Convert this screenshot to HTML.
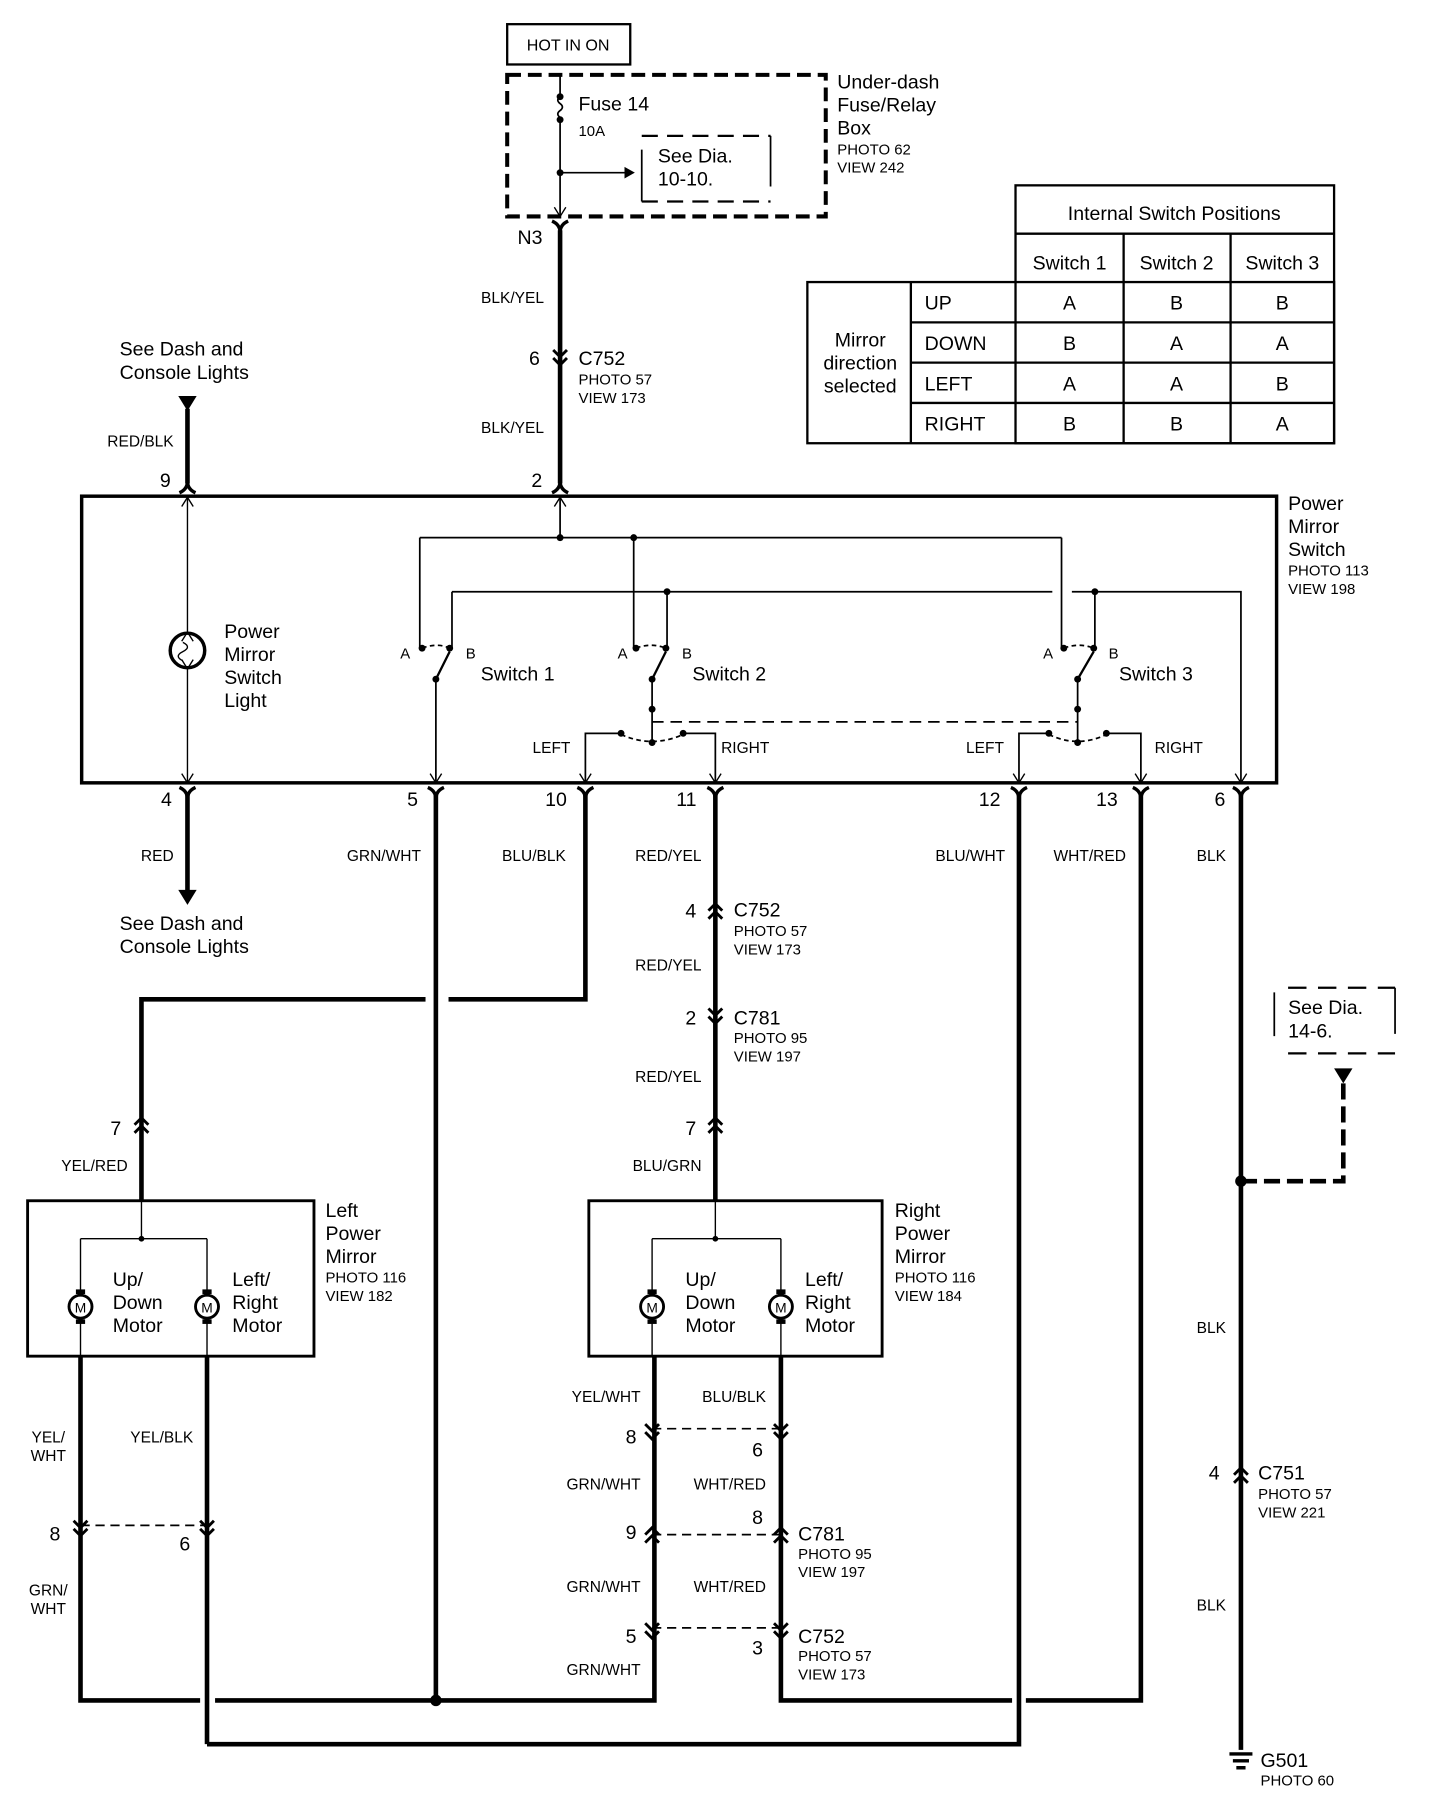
<!DOCTYPE html>
<html><head><meta charset="utf-8"><style>
html,body{margin:0;padding:0;background:#fff}
svg{display:block}
text{font-family:"Liberation Sans",Arial,sans-serif;fill:#000}
.t{font-size:17px}.s{font-size:13px}.w{font-size:13.5px}
</style></head><body>
<svg width="1456" height="1804" viewBox="0 0 1266 1567" preserveAspectRatio="none" xmlns="http://www.w3.org/2000/svg">
<defs>
<path id="yd" d="M-7,-6 Q0,-3 0,4 Q0,-3 7,-6" fill="none" stroke="#000" stroke-width="3"/>
<path id="yu" d="M-7,6 Q0,3 0,-4 Q0,3 7,6" fill="none" stroke="#000" stroke-width="3"/>
<g id="cd"><path d="M-6,-8 L0,-2 L6,-8 M-6,-1 L0,5 L6,-1" fill="none" stroke="#000" stroke-width="2.5"/></g>
<g id="cu"><path d="M-6,8 L0,2 L6,8 M-6,1 L0,-5 L6,1" fill="none" stroke="#000" stroke-width="2.5"/></g>
<g id="mot"><circle r="10" fill="#fff" stroke="#000" stroke-width="2.5"/><rect x="-4" y="-15" width="8" height="4" fill="#000"/><rect x="-4" y="11" width="8" height="4" fill="#000"/><text x="0" y="5" text-anchor="middle" style="font-size:12px">M</text></g>
</defs>
<g fill="none" stroke="#000">
<rect x="441" y="21" width="107" height="35" stroke-width="2"/>
<rect x="441" y="65" width="277" height="123" stroke-width="3.5" stroke-dasharray="12,6"/>
<path d="M487,65 V84 M487,104 V188" stroke-width="1.5"/>
<path d="M487,84 q-4,3 0,6 q4,3 0,6 q-4,3 0,6 V104" stroke-width="1.5"/>
<path d="M487,150 H543" stroke-width="1.5"/>
<path d="M558,118 H670 M558,175 H670" stroke-width="2" stroke-dasharray="14,8"/>
<path d="M558,130 V175 M670,118 V162" stroke-width="1.5"/>
<path d="M487,200 V420" stroke-width="4"/>
<rect x="883" y="161" width="277" height="224" stroke-width="2"/>
<rect x="702" y="245" width="458" height="140" stroke-width="2"/>
<path d="M883,203 H1160 M792,280 H1160 M792,315 H1160 M792,350 H1160 M792,245 V385 M977,203 V385 M1070,203 V385" stroke-width="2"/>
<rect x="71" y="431" width="1039" height="249" stroke-width="3"/>
<path d="M163,355 V420 M163,690 V775" stroke-width="4"/>
<path d="M163,431 V549 M163,581 V680" stroke-width="1.2"/>
<circle cx="163" cy="565" r="15" stroke-width="3"/>
<path d="M159,558 q8,4 0,8 q-8,4 0,8" stroke-width="1.2"/>
<path d="M487,431 V467 M365,467 H923 M365,467 V563 M551,467 V563 M923,467 V563" stroke-width="1.5"/>
<path d="M393,514 H915 M932,514 H1079 V680 M393,514 V563 M580,514 V563 M952,514 V563" stroke-width="1.5"/>
<path d="M379,590 V680 M567,590 V645 M937,590 V645 M509,680 V637 H538 M622,680 V637 H596 M886,680 V637 H912 M992,680 V637 H964" stroke-width="1.5"/>
<path d="M391,566 L379,590 M579,566 L567,590 M951,566 L937,590" stroke-width="2"/>
<path d="M367,563 Q380,558 391,563 M553,563 Q566,558 579,563 M925,563 Q938,558 951,563" stroke-width="1.5" stroke-dasharray="4,3"/>
<path d="M540,638 Q567,650 594,638 M912,638 Q937,650 962,638" stroke-width="1.5" stroke-dasharray="4,3"/>
<path d="M567,627 H937" stroke-width="1.5" stroke-dasharray="10,6"/>
<path d="M158,440 L163,432 L168,440 M158,672 L163,680 L168,672 M374,672 L379,680 L384,672 M504,672 L509,680 L514,672 M617,672 L622,680 L627,672 M881,672 L886,680 L891,672 M987,672 L992,680 L997,672 M1074,672 L1079,680 L1084,672 M482,440 L487,432 L492,440 M482,180 L487,188 L492,180 M158,557 L163,549 L168,557 M158,573 L163,581 L168,573" stroke-width="1.2"/>
<path d="M379,690 V1477 M509,690 V868 H390 M370,868 H123 V975 M123,975 V1043 M622,690 V1043 M886,690 V1515 H180 M992,690 V1477 H892 M880,1477 H679 V1178 M1079,690 V1520 M70,1178 V1477 H174 M187,1477 H569 V1178 M180,1178 V1515" stroke-width="4"/>
<path d="M1079,1026 H1168 V940" stroke-width="4" stroke-dasharray="14,6"/>
<path d="M1120,858 H1213 M1120,915 H1213" stroke-width="2" stroke-dasharray="16,10"/>
<path d="M1108,862 V900 M1213,858 V898" stroke-width="1.5"/>
<rect x="24" y="1043" width="249" height="135" stroke-width="2.5"/>
<rect x="512" y="1043" width="255" height="135" stroke-width="2.5"/>
<path d="M123,1043 V1076 M70,1076 H180 M70,1076 V1178 M180,1076 V1178 M622,1043 V1076 M567,1076 H679 M567,1076 V1178 M679,1076 V1178" stroke-width="1.2"/>
<path d="M70,1325 H180 M567,1241 H679 M567,1333 H679 M567,1414 H679" stroke-width="1.5" stroke-dasharray="8,5"/>
</g>
<g fill="#000">
<circle cx="487" cy="84" r="3"/><circle cx="487" cy="104" r="3"/><circle cx="487" cy="150" r="3"/>
<circle cx="487" cy="467" r="3"/><circle cx="551" cy="467" r="3"/><circle cx="580" cy="514" r="3"/><circle cx="952" cy="514" r="3"/>
<circle cx="367" cy="563" r="3"/><circle cx="391" cy="563" r="3"/><circle cx="379" cy="590" r="3"/>
<circle cx="553" cy="563" r="3"/><circle cx="579" cy="563" r="3"/><circle cx="567" cy="590" r="3"/><circle cx="567" cy="616" r="3"/><circle cx="567" cy="645" r="3"/><circle cx="540" cy="637" r="3"/><circle cx="594" cy="637" r="3"/>
<circle cx="925" cy="563" r="3"/><circle cx="951" cy="563" r="3"/><circle cx="937" cy="590" r="3"/><circle cx="937" cy="616" r="3"/><circle cx="937" cy="645" r="3"/><circle cx="912" cy="637" r="3"/><circle cx="962" cy="637" r="3"/>
<circle cx="379" cy="1477" r="5"/><circle cx="1079" cy="1026" r="5"/><circle cx="123" cy="1076" r="2.5"/><circle cx="622" cy="1076" r="2.5"/>
<path d="M543,145 L552,150 L543,155 Z"/>
<path d="M155,344 H171 L163,357 Z"/>
<path d="M155,773 H171 L163,786 Z"/>
<path d="M1160,928 H1176 L1168,941 Z"/>
<path d="M1069,1522 H1089 V1525 H1069 Z M1072,1528 H1086 V1531 H1072 Z M1075,1534 H1083 V1537 H1075 Z"/>
</g>
<g fill="#fff">
<use href="#yd" x="487" y="198"/>
<use href="#cd" x="487" y="312"/>
<use href="#yu" x="487" y="422"/><use href="#yu" x="163" y="422"/>
<use href="#yd" x="163" y="690"/><use href="#yd" x="379" y="690"/><use href="#yd" x="509" y="690"/><use href="#yd" x="622" y="690"/><use href="#yd" x="886" y="690"/><use href="#yd" x="992" y="690"/><use href="#yd" x="1079" y="690"/>
<use href="#cu" x="622" y="790"/><use href="#cd" x="622" y="884"/><use href="#cu" x="622" y="976"/><use href="#cu" x="123" y="976"/>
<use href="#cd" x="70" y="1329"/><use href="#cd" x="180" y="1329"/>
<use href="#cd" x="567" y="1245"/><use href="#cd" x="679" y="1245"/>
<use href="#cu" x="567" y="1332"/><use href="#cu" x="679" y="1332"/>
<use href="#cd" x="567" y="1418"/><use href="#cd" x="679" y="1418"/>
<use href="#cu" x="1079" y="1280"/>
<use href="#mot" x="70" y="1135"/><use href="#mot" x="180" y="1135"/><use href="#mot" x="567" y="1135"/><use href="#mot" x="679" y="1135"/>
</g>
<text class="s" x="494" y="44" text-anchor="middle" style="font-size:14px">HOT IN ON</text>
<text class="t" x="503" y="96">Fuse 14</text><text class="s" x="503" y="118">10A</text>
<text class="t" x="572" y="141">See Dia.</text><text class="t" x="572" y="161">10-10.</text>
<text class="t" x="728" y="77">Under-dash</text><text class="t" x="728" y="97">Fuse/Relay</text><text class="t" x="728" y="117">Box</text>
<text class="s" x="728" y="134">PHOTO 62</text><text class="s" x="728" y="150">VIEW 242</text>
<text class="t" x="450" y="212">N3</text>
<text class="w" x="473" y="263" text-anchor="end">BLK/YEL</text>
<text class="t" x="460" y="317">6</text><text class="t" x="503" y="317">C752</text><text class="s" x="503" y="334">PHOTO 57</text><text class="s" x="503" y="350">VIEW 173</text>
<text class="w" x="473" y="376" text-anchor="end">BLK/YEL</text>
<text class="t" x="462" y="423">2</text>
<text class="t" x="104" y="309">See Dash and</text><text class="t" x="104" y="329">Console Lights</text>
<text class="w" x="151" y="388" text-anchor="end">RED/BLK</text>
<text class="t" x="139" y="423">9</text>
<text class="t" x="1021" y="191" text-anchor="middle">Internal Switch Positions</text>
<text class="t" x="930" y="234" text-anchor="middle">Switch 1</text><text class="t" x="1023" y="234" text-anchor="middle">Switch 2</text><text class="t" x="1115" y="234" text-anchor="middle">Switch 3</text>
<text class="t" x="748" y="301" text-anchor="middle">Mirror</text><text class="t" x="748" y="321" text-anchor="middle">direction</text><text class="t" x="748" y="341" text-anchor="middle">selected</text>
<text class="t" x="804" y="269">UP</text><text class="t" x="804" y="304">DOWN</text><text class="t" x="804" y="339">LEFT</text><text class="t" x="804" y="374">RIGHT</text>
<g class="t" text-anchor="middle">
<text x="930" y="269">A</text><text x="1023" y="269">B</text><text x="1115" y="269">B</text>
<text x="930" y="304">B</text><text x="1023" y="304">A</text><text x="1115" y="304">A</text>
<text x="930" y="339">A</text><text x="1023" y="339">A</text><text x="1115" y="339">B</text>
<text x="930" y="374">B</text><text x="1023" y="374">B</text><text x="1115" y="374">A</text>
</g>
<text class="t" x="1120" y="443">Power</text><text class="t" x="1120" y="463">Mirror</text><text class="t" x="1120" y="483">Switch</text><text class="s" x="1120" y="500">PHOTO 113</text><text class="s" x="1120" y="516">VIEW 198</text>
<text class="t" x="195" y="554">Power</text><text class="t" x="195" y="574">Mirror</text><text class="t" x="195" y="594">Switch</text><text class="t" x="195" y="614">Light</text>
<text class="s" x="348" y="572">A</text><text class="s" x="405" y="572">B</text><text class="t" x="418" y="591">Switch 1</text>
<text class="s" x="537" y="572">A</text><text class="s" x="593" y="572">B</text><text class="t" x="602" y="591">Switch 2</text>
<text class="s" x="907" y="572">A</text><text class="s" x="964" y="572">B</text><text class="t" x="973" y="591">Switch 3</text>
<text class="w" x="463" y="654">LEFT</text><text class="w" x="627" y="654">RIGHT</text>
<text class="w" x="840" y="654">LEFT</text><text class="w" x="1004" y="654">RIGHT</text>
<text class="t" x="140" y="700">4</text><text class="t" x="354" y="700">5</text><text class="t" x="474" y="700">10</text><text class="t" x="588" y="700">11</text><text class="t" x="851" y="700">12</text><text class="t" x="953" y="700">13</text><text class="t" x="1056" y="700">6</text>
<text class="w" x="151" y="748" text-anchor="end">RED</text>
<text class="w" x="366" y="748" text-anchor="end">GRN/WHT</text>
<text class="w" x="492" y="748" text-anchor="end">BLU/BLK</text>
<text class="w" x="610" y="748" text-anchor="end">RED/YEL</text>
<text class="w" x="874" y="748" text-anchor="end">BLU/WHT</text>
<text class="w" x="979" y="748" text-anchor="end">WHT/RED</text>
<text class="w" x="1066" y="748" text-anchor="end">BLK</text>
<text class="t" x="104" y="808">See Dash and</text><text class="t" x="104" y="828">Console Lights</text>
<text class="t" x="596" y="797">4</text><text class="t" x="638" y="796">C752</text><text class="s" x="638" y="813">PHOTO 57</text><text class="s" x="638" y="829">VIEW 173</text>
<text class="w" x="610" y="843" text-anchor="end">RED/YEL</text>
<text class="t" x="596" y="890">2</text><text class="t" x="638" y="890">C781</text><text class="s" x="638" y="906">PHOTO 95</text><text class="s" x="638" y="922">VIEW 197</text>
<text class="w" x="610" y="940" text-anchor="end">RED/YEL</text>
<text class="t" x="596" y="986">7</text><text class="t" x="96" y="986">7</text>
<text class="w" x="610" y="1017" text-anchor="end">BLU/GRN</text>
<text class="w" x="111" y="1017" text-anchor="end">YEL/RED</text>
<text class="t" x="1120" y="881">See Dia.</text><text class="t" x="1120" y="901">14-6.</text>
<text class="t" x="283" y="1057">Left</text><text class="t" x="283" y="1077">Power</text><text class="t" x="283" y="1097">Mirror</text><text class="s" x="283" y="1114">PHOTO 116</text><text class="s" x="283" y="1130">VIEW 182</text>
<text class="t" x="98" y="1117">Up/</text><text class="t" x="98" y="1137">Down</text><text class="t" x="98" y="1157">Motor</text>
<text class="t" x="202" y="1117">Left/</text><text class="t" x="202" y="1137">Right</text><text class="t" x="202" y="1157">Motor</text>
<text class="t" x="778" y="1057">Right</text><text class="t" x="778" y="1077">Power</text><text class="t" x="778" y="1097">Mirror</text><text class="s" x="778" y="1114">PHOTO 116</text><text class="s" x="778" y="1130">VIEW 184</text>
<text class="t" x="596" y="1117">Up/</text><text class="t" x="596" y="1137">Down</text><text class="t" x="596" y="1157">Motor</text>
<text class="t" x="700" y="1117">Left/</text><text class="t" x="700" y="1137">Right</text><text class="t" x="700" y="1157">Motor</text>
<text class="w" x="1066" y="1158" text-anchor="end">BLK</text>
<text class="w" x="42" y="1253" text-anchor="middle">YEL/</text><text class="w" x="42" y="1269" text-anchor="middle">WHT</text>
<text class="w" x="168" y="1253" text-anchor="end">YEL/BLK</text>
<text class="w" x="42" y="1386" text-anchor="middle">GRN/</text><text class="w" x="42" y="1402" text-anchor="middle">WHT</text>
<text class="t" x="43" y="1338">8</text><text class="t" x="156" y="1347">6</text>
<text class="w" x="557" y="1218" text-anchor="end">YEL/WHT</text><text class="w" x="666" y="1218" text-anchor="end">BLU/BLK</text>
<text class="t" x="544" y="1254">8</text><text class="t" x="654" y="1265">6</text>
<text class="w" x="557" y="1294" text-anchor="end">GRN/WHT</text><text class="w" x="666" y="1294" text-anchor="end">WHT/RED</text>
<text class="t" x="544" y="1337">9</text><text class="t" x="654" y="1324">8</text>
<text class="t" x="694" y="1338">C781</text><text class="s" x="694" y="1354">PHOTO 95</text><text class="s" x="694" y="1370">VIEW 197</text>
<text class="w" x="557" y="1383" text-anchor="end">GRN/WHT</text><text class="w" x="666" y="1383" text-anchor="end">WHT/RED</text>
<text class="t" x="544" y="1427">5</text><text class="t" x="654" y="1437">3</text>
<text class="t" x="694" y="1427">C752</text><text class="s" x="694" y="1443">PHOTO 57</text><text class="s" x="694" y="1459">VIEW 173</text>
<text class="w" x="557" y="1455" text-anchor="end">GRN/WHT</text>
<text class="t" x="1051" y="1285">4</text><text class="t" x="1094" y="1285">C751</text><text class="s" x="1094" y="1302">PHOTO 57</text><text class="s" x="1094" y="1318">VIEW 221</text>
<text class="w" x="1066" y="1399" text-anchor="end">BLK</text>
<text class="t" x="1096" y="1535">G501</text><text class="s" x="1096" y="1551">PHOTO 60</text>
</svg>
</body></html>
